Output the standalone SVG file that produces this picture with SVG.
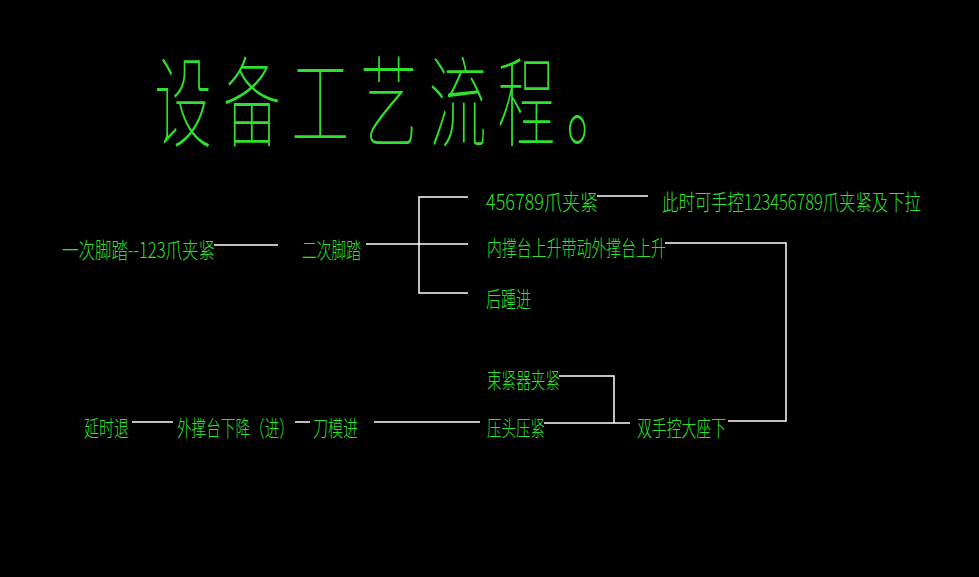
<svg xmlns="http://www.w3.org/2000/svg" width="979" height="577" viewBox="0 0 979 577">
<style>
.bg{fill:#000}
.t{font-family:"Noto Sans CJK SC","Noto Sans CJK JP",sans-serif;font-size:15.5px;fill:#2fe02f;font-weight:300}
.title{font-family:"Noto Sans CJK SC","Noto Sans CJK JP",sans-serif;font-size:58px;fill:#2fe02f;font-weight:100}
.c{fill:none;stroke:#fff;stroke-width:1.5}
</style>
<rect class="bg" x="0" y="0" width="979" height="577"/>
<g id="title"><text class="title" transform="translate(154 139) scale(1 1.7)" x="0" y="0" textLength="470" lengthAdjust="spacing">设备工艺流程。</text></g>
<g id="connectors">
<path class="c" d="M214,245 H278"/>
<path class="c" d="M366,244 H468"/>
<path class="c" d="M468,197 H419 V293 H468"/>
<path class="c" d="M597,196 H648"/>
<path class="c" d="M665,243 H786 V421 H728"/>
<path class="c" d="M559,376 H614 V423"/>
<path class="c" d="M544,423 H630"/>
<path class="c" d="M374,422 H480"/>
<path class="c" d="M295,422 H310"/>
<path class="c" d="M132,422 H173"/>
</g>
<g id="n1"><text class="t" transform="translate(62 258) scale(1 1.42)" x="0" y="0" textLength="153" lengthAdjust="spacingAndGlyphs">一次脚踏--123爪夹紧</text></g>
<g id="n2"><text class="t" transform="translate(302 258) scale(1 1.42)" x="0" y="0" textLength="59" lengthAdjust="spacingAndGlyphs">二次脚踏</text></g>
<g id="n3"><text class="t" transform="translate(486 210) scale(1 1.42)" x="0" y="0" textLength="112" lengthAdjust="spacingAndGlyphs">456789爪夹紧</text></g>
<g id="n4"><text class="t" transform="translate(662 210) scale(1 1.42)" x="0" y="0" textLength="259" lengthAdjust="spacingAndGlyphs">此时可手控123456789爪夹紧及下拉</text></g>
<g id="n5"><text class="t" transform="translate(487 256) scale(1 1.42)" x="0" y="0" textLength="179" lengthAdjust="spacingAndGlyphs">内撑台上升带动外撑台上升</text></g>
<g id="n6"><text class="t" transform="translate(486 307) scale(1 1.42)" x="0" y="0" textLength="45" lengthAdjust="spacingAndGlyphs">后踵进</text></g>
<g id="n7"><text class="t" transform="translate(487 388) scale(1 1.42)" x="0" y="0" textLength="73" lengthAdjust="spacingAndGlyphs">束紧器夹紧</text></g>
<g id="n8"><text class="t" transform="translate(487 436) scale(1 1.42)" x="0" y="0" textLength="58" lengthAdjust="spacingAndGlyphs">压头压紧</text></g>
<g id="n9"><text class="t" transform="translate(637 436) scale(1 1.42)" x="0" y="0" textLength="89" lengthAdjust="spacingAndGlyphs">双手控大座下</text></g>
<g id="n10"><text class="t" transform="translate(84 436) scale(1 1.42)" x="0" y="0" textLength="45" lengthAdjust="spacingAndGlyphs">延时退</text></g>
<g id="n11"><text class="t" transform="translate(177 436) scale(1 1.42)" x="0" y="0" textLength="117" lengthAdjust="spacingAndGlyphs">外撑台下降（进）</text></g>
<g id="n12"><text class="t" transform="translate(313 436) scale(1 1.42)" x="0" y="0" textLength="45" lengthAdjust="spacingAndGlyphs">刀模进</text></g>
</svg>
